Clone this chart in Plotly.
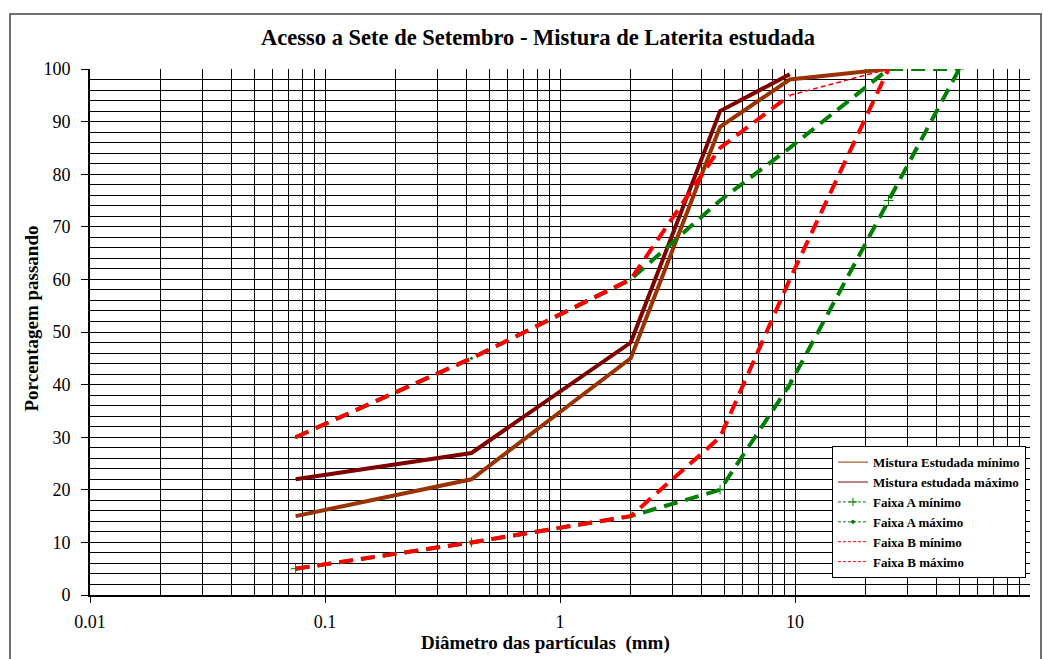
import plotly.graph_objects as go

# Sieve sizes (mm) and percentage passing
mist_min_x = [0.075, 0.42, 2, 4.8, 9.5, 25]
mist_min_y = [15, 22, 45, 89, 98, 100]

mist_max_x = [0.075, 0.42, 2, 4.8, 9.5]
mist_max_y = [22, 27, 48, 92, 99]

faixaA_min_x = [0.075, 0.42, 2, 4.8, 9.5, 25, 50]
faixaA_min_y = [5, 10, 15, 20, 40, 75, 100]

faixaA_max_x = [0.075, 0.42, 2, 4.8, 9.5, 25, 50]
faixaA_max_y = [30, 45, 60, 75, 85, 100, 100]

faixaB_min_x = [0.075, 0.42, 2, 4.8, 9.5, 25]
faixaB_min_y = [5, 10, 15, 30, 60, 100]

faixaB_max_x = [0.075, 0.42, 2, 4.8, 9.5]
faixaB_max_y = [30, 45, 60, 85, 95]
faixaB_max_tail_x = [9.5, 25]
faixaB_max_tail_y = [95, 100]

x_major = [0.01, 0.1, 1, 10]
x_major_text = ["0.01", "0.1", "1", "10"]
x_minor = [m * d for d in [0.01, 0.1, 1, 10] for m in range(2, 10)] + [100]

FONT = "Liberation Serif"
BROWN = "#993300"
DRED = "#800000"
GREEN = "#008000"
RED = "#FF0000"
DASH = "14px,8px"

fig = go.Figure()

# data traces (legend shown through thin legend-only entries below)
fig.add_trace(go.Scatter(x=mist_min_x, y=mist_min_y, mode="lines", showlegend=False,
                         name="Mistura Estudada mínimo",
                         line=dict(color=BROWN, width=4)))
fig.add_trace(go.Scatter(x=mist_max_x, y=mist_max_y, mode="lines", showlegend=False,
                         name="Mistura estudada máximo",
                         line=dict(color=DRED, width=4)))
fig.add_trace(go.Scatter(x=faixaA_min_x, y=faixaA_min_y, mode="lines+markers", showlegend=False,
                         name="Faixa A mínimo",
                         line=dict(color=GREEN, width=4, dash=DASH),
                         marker=dict(symbol="cross-thin", size=7,
                                     line=dict(color=GREEN, width=1))))
fig.add_trace(go.Scatter(x=faixaA_max_x, y=faixaA_max_y, mode="lines+markers", showlegend=False,
                         name="Faixa A máximo",
                         line=dict(color=GREEN, width=4, dash=DASH),
                         marker=dict(symbol="circle", size=3, color=GREEN)))
fig.add_trace(go.Scatter(x=faixaB_min_x, y=faixaB_min_y, mode="lines", showlegend=False,
                         name="Faixa B mínimo",
                         line=dict(color=RED, width=4, dash=DASH)))
fig.add_trace(go.Scatter(x=faixaB_max_x, y=faixaB_max_y, mode="lines", showlegend=False,
                         name="Faixa B máximo",
                         line=dict(color=RED, width=4, dash=DASH)))
fig.add_trace(go.Scatter(x=faixaB_max_tail_x, y=faixaB_max_tail_y, mode="lines",
                         name="Faixa B máximo", showlegend=False,
                         line=dict(color=RED, width=1.5, dash="5px,3px")))

# legend entries with thin sample lines
legend_items = [
    ("Mistura Estudada mínimo", BROWN, "solid", None),
    ("Mistura estudada máximo", DRED, "solid", None),
    ("Faixa A mínimo", GREEN, "dash", "cross-thin"),
    ("Faixa A máximo", GREEN, "dash", "circle"),
    ("Faixa B mínimo", RED, "dash", None),
    ("Faixa B máximo", RED, "dash", None),
]
for name, col, dash, sym in legend_items:
    kw = dict(mode="lines")
    if sym:
        kw = dict(mode="lines+markers",
                  marker=dict(symbol=sym, size=6 if sym == "cross-thin" else 3,
                              color=col, line=dict(color=col, width=1)))
    fig.add_trace(go.Scatter(x=[None], y=[None], name="<b>" + name + "</b>",
                             line=dict(color=col, width=1, dash="3px,2px" if dash == "dash" else "solid"),
                             hoverinfo="skip", **kw))

fig.update_layout(
    width=1043, height=659,
    margin=dict(l=90, r=13, t=69, b=64),
    paper_bgcolor="white", plot_bgcolor="white",
    font=dict(family=FONT, color="black"),
    title=dict(text="<b>Acesso a Sete de Setembro - Mistura de Laterita estudada</b>",
               x=(538 - 90) / 940, xref="paper", xanchor="center", y=0.944, yanchor="middle",
               font=dict(family=FONT, size=22.5, color="black")),
    xaxis=dict(type="log", range=[-2, 2],
               tickvals=x_major, ticktext=x_major_text,
               ticks="outside", ticklen=6, tickcolor="black", tickwidth=1,
               showgrid=True, gridcolor="black", gridwidth=1,
               minor=dict(tickvals=x_minor, showgrid=True, gridcolor="black",
                          gridwidth=1, ticks=""),
               showline=True, linecolor="black", linewidth=2,
               zeroline=False,
               tickfont=dict(family=FONT, size=18),
               ticklabelstandoff=3),
    yaxis=dict(range=[0, 100], dtick=10, tick0=0,
               ticks="outside", ticklen=7, tickcolor="black", tickwidth=1,
               showgrid=True, gridcolor="black", gridwidth=1,
               minor=dict(dtick=2, showgrid=True, gridcolor="black",
                          gridwidth=1, ticks=""),
               showline=True, linecolor="black", linewidth=2,
               zeroline=False,
               tickfont=dict(family=FONT, size=18),
               ticklabelstandoff=7),
    legend=dict(x=0.9957, xanchor="right", y=0.032, yanchor="bottom",
                bgcolor="white", bordercolor="black", borderwidth=1,
                font=dict(family=FONT, size=13, color="black"),
                tracegroupgap=0),
    showlegend=True,
)

# axis titles (positioned as in the original chart)
fig.add_annotation(text="<b>Diâmetro das partículas  (mm)</b>", xref="paper", yref="paper",
                   x=(545 - 90) / 940, y=(595 - 643) / 526, xanchor="center", yanchor="middle",
                   showarrow=False, font=dict(family=FONT, size=19, color="black"))
fig.add_annotation(text="<b>Porcentagem passando</b>", xref="paper", yref="paper",
                   x=(31 - 90) / 940, y=(595 - 318.5) / 526, xanchor="center", yanchor="middle",
                   textangle=-90, showarrow=False,
                   font=dict(family=FONT, size=19, color="black"))

# outer chart border
fig.add_shape(type="rect", xref="paper", yref="paper",
              x0=-80/940, x1=(1041 - 90)/940, y0=-0.2, y1=581/526,
              line=dict(color="#444", width=1.5), fillcolor="rgba(0,0,0,0)",
              layer="below")

fig.write_html("out.html", config={"displayModeBar": False},
               post_script="document.body.style.margin='0';document.body.style.padding='0';")
